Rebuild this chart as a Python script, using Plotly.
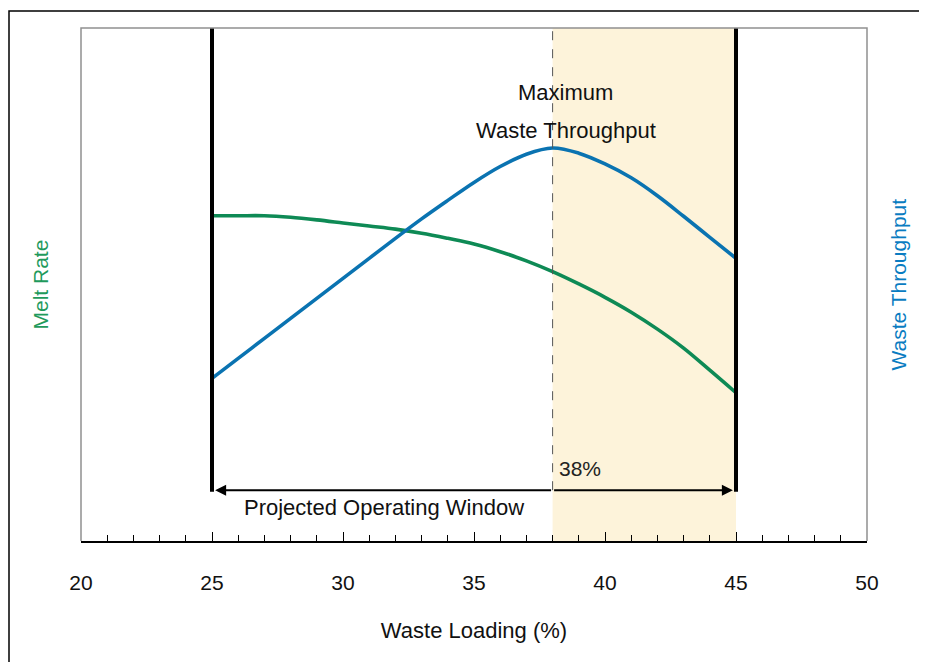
import plotly.graph_objects as go

# ---- data ----
loading = [25, 26, 27, 28, 29, 30, 31, 32, 33, 34, 35, 36, 37, 38, 39, 40, 41, 42, 43, 44, 45]
melt_rate = [63.4, 63.4, 63.4, 63.1, 62.6, 62.0, 61.4, 60.8, 60.0, 59.0, 57.9, 56.4, 54.6, 52.5,
             50.1, 47.5, 44.6, 41.3, 37.6, 33.3, 28.9]
throughput = [31.7, 35.6, 39.5, 43.4, 47.3, 51.2, 55.1, 59.0, 62.8, 66.4, 69.9, 73.0, 75.4, 76.6,
              75.6, 73.5, 70.8, 67.3, 63.3, 59.2, 55.1]

window_lo, window_hi = 25, 45
max_loading = 38
x_ticks = [20, 25, 30, 35, 40, 45, 50]

FONT = "Liberation Sans, Arial, sans-serif"
GREEN = "#0e8a55"
BLUE = "#0a73b1"
GREEN_T = "#1f9a5c"
BLUE_T = "#0a7cc1"

fig = go.Figure()

fig.add_trace(go.Scatter(x=loading, y=melt_rate, mode="lines",
                         line=dict(color=GREEN, width=3.6, shape="spline", smoothing=1),
                         name="Melt Rate", showlegend=False, hoverinfo="skip"))
fig.add_trace(go.Scatter(x=loading, y=throughput, mode="lines",
                         line=dict(color=BLUE, width=3.6, shape="spline", smoothing=1),
                         name="Waste Throughput", showlegend=False, hoverinfo="skip"))

shapes = [
    dict(type="rect", xref="x", yref="paper", x0=max_loading, x1=window_hi, y0=0, y1=1,
         fillcolor="#fdf3da", line=dict(width=0), layer="below"),
    dict(type="line", xref="x", yref="y", x0=max_loading, x1=max_loading, y0=9.9, y1=100,
         line=dict(color="#555555", width=1, dash="dash")),
    dict(type="line", xref="x", yref="y", x0=window_lo, x1=window_lo, y0=9.6, y1=100,
         line=dict(color="black", width=4)),
    dict(type="line", xref="x", yref="y", x0=window_hi, x1=window_hi, y0=9.6, y1=100,
         line=dict(color="black", width=4)),
    dict(type="path", xref="paper", yref="paper", path="M 0 0 L 0 1 L 1 1 L 1 0",
         line=dict(color="#909090", width=1.5)),
    dict(type="rect", xref="paper", yref="paper", x0=-0.0916, x1=1.2, y0=-0.5, y1=1.0331,
         line=dict(color="black", width=1.5)),
]

annotations = [
    dict(x=window_lo + 0.12, y=9.9, ax=max_loading, ay=9.9, xref="x", yref="y", axref="x", ayref="y",
         text="", showarrow=True, arrowhead=2, arrowsize=1.1, arrowwidth=2, arrowcolor="black"),
    dict(x=window_hi - 0.12, y=9.9, ax=max_loading, ay=9.9, xref="x", yref="y", axref="x", ayref="y",
         text="", showarrow=True, arrowhead=2, arrowsize=1.1, arrowwidth=2, arrowcolor="black"),
    dict(x=31.57, y=6.6, xref="x", yref="y", text="Projected Operating Window", showarrow=False,
         font=dict(family=FONT, size=22, color="#111111")),
    dict(x=max_loading, y=14.2, xref="x", yref="y", text="38%", showarrow=False, xanchor="left", xshift=4,
         font=dict(family=FONT, size=21, color="#222222")),
    dict(x=38.5, y=87.5, xref="x", yref="y", text="Maximum", showarrow=False,
         font=dict(family=FONT, size=22, color="#111111")),
    dict(x=38.5, y=80.1, xref="x", yref="y", text="Waste Throughput", showarrow=False,
         font=dict(family=FONT, size=22, color="#111111")),
    dict(x=0, y=0.5, xref="paper", yref="paper", text="Melt Rate", textangle=-90, showarrow=False,
         xanchor="center", xshift=-41, font=dict(family=FONT, size=21, color=GREEN_T)),
    dict(x=1, y=0.5, xref="paper", yref="paper", text="Waste Throughput", textangle=-90, showarrow=False,
         xanchor="center", xshift=31, font=dict(family=FONT, size=21, color=BLUE_T)),
]

fig.update_layout(
    width=927, height=662,
    margin=dict(l=73, r=68, t=20, b=129),
    plot_bgcolor="white", paper_bgcolor="white",
    shapes=shapes, annotations=annotations,
    xaxis=dict(range=[20, 50], tickvals=x_ticks, ticktext=[str(v) for v in x_ticks],
               ticks="inside", ticklen=9, tickwidth=1.2, tickcolor="black",
               minor=dict(ticks="inside", dtick=1, ticklen=6, tickwidth=1.2, tickcolor="black"),
               showline=True, linecolor="black", linewidth=1.5, showgrid=False, zeroline=False,
               tickfont=dict(family=FONT, size=21, color="#111111"), ticklabelstandoff=22,
               title=dict(text="Waste Loading (%)", font=dict(family=FONT, size=22, color="#111111"), standoff=30)),
    yaxis=dict(range=[0, 100], showticklabels=False, ticks="", showgrid=False, zeroline=False, showline=False),
    font=dict(family=FONT),
)

fig.write_html("out.html")
